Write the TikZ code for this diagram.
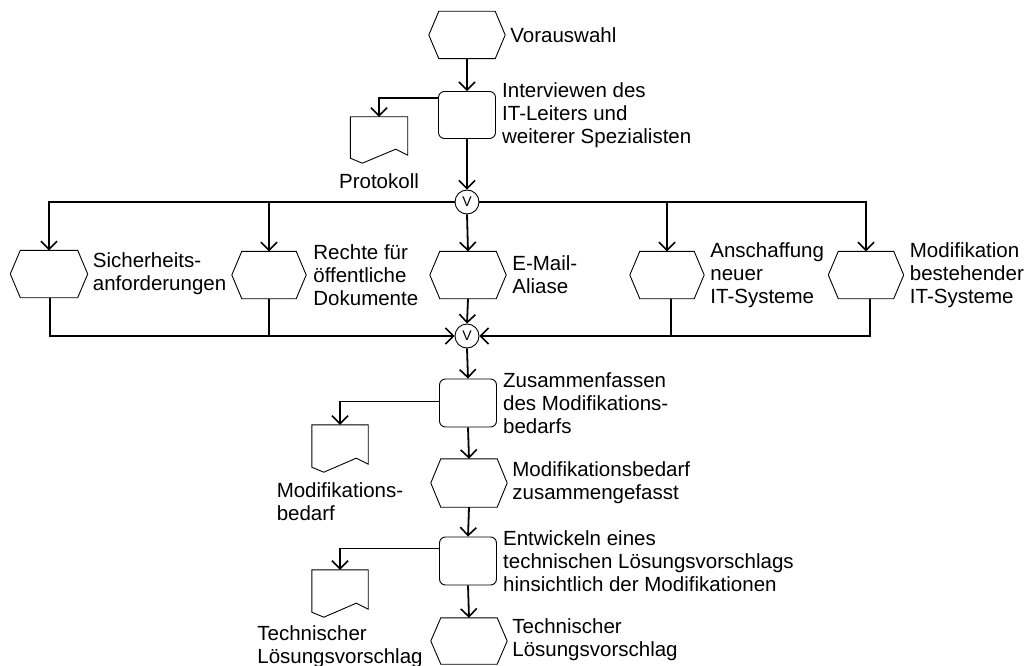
\documentclass[tikz,border=0pt]{standalone}
\usepackage{fontspec}
\setmainfont{Liberation Sans}[Ligatures=NoCommon]
\usetikzlibrary{arrows.meta,calc}

% outlines of event (hexagon) and document nodes
\newcommand\hexoutline[1]{%
  \draw[shapeline] (#1.west) -- ([xshift=10pt]#1.north west) -- ([xshift=-10pt]#1.north east)
    -- (#1.east) -- ([xshift=-10pt]#1.south east) -- ([xshift=10pt]#1.south west) -- cycle;}
\newcommand\docoutline[1]{%
  \draw[shapeline] (#1.north west) -- (#1.north east) -- ([yshift=8pt]#1.south east)
    -- ([xshift=-12pt,yshift=14pt]#1.south east) -- ([xshift=12pt]#1.south west)
    -- ([yshift=5pt]#1.south west) -- cycle;}

\begin{document}
\begin{tikzpicture}[x=1pt,y=-1pt,
  shapeline/.style={line width=0.9pt},
  hexnode/.style={minimum width=76pt, minimum height=47pt, inner sep=0pt},
  funcbox/.style={draw, shapeline, rounded corners=6pt, minimum width=57pt, minimum height=47pt, inner sep=0pt},
  docnode/.style={minimum width=56pt, minimum height=46pt, inner sep=0pt},
  ornode/.style={draw, circle, shapeline, minimum size=24pt, inner sep=0pt, font=\fontsize{14}{14}\selectfont},
  conn/.style={line width=1.8pt},
  arr/.style={conn, -{Straight Barb[length=8pt,width=16pt,line width=1.6pt]}},
  lbl/.style={inner sep=0pt, align=left, anchor=west, font=\fontsize{20.5}{23}\selectfont},
  doclbl/.style={inner sep=0pt, align=left, anchor=north, font=\fontsize{20.5}{23}\selectfont},
]
\useasboundingbox (0,0) rectangle (1033,666);

% ---- start event and first function
\node[hexnode] (vor) at (467,35) {};
\hexoutline{vor}
\node[lbl] (vorT) at ([xshift=5pt]vor.east) {Vorauswahl};

\node[funcbox] (f1) at (467,115) {};
\node[lbl] (f1T) at ([xshift=6pt]f1.east) {Interviewen des\\IT-Leiters und\\weiterer Spezialisten};

\node[docnode, minimum width=57pt] (doc1) at (379,140) {};
\docoutline{doc1}
\node[doclbl] (doc1T) at ([yshift=-10pt]doc1.south) {Protokoll};

% ---- split connector and the five events
\node[ornode] (or1) at (467,202) {V};

\node[hexnode, minimum width=77pt] (sich) at (49,274) {};
\node[hexnode, minimum width=74pt] (rechte) at (269,275) {};
\node[hexnode] (email) at (468,275) {};
\node[hexnode, minimum width=74pt] (ansch) at (667,275) {};
\node[hexnode, minimum width=75pt] (modif) at (866,275) {};
\foreach \n in {sich,rechte,email,ansch,modif} {\hexoutline{\n}}

\node[lbl] (sichT) at ([xshift=5pt]sich.east) {Sicherheits-\\anforderungen};
\node[lbl] (rechteT) at ([xshift=7pt]rechte.east) {Rechte für\\öffentliche\\Dokumente};
\node[lbl] (emailT) at ([xshift=6pt]email.east) {E-Mail-\\Aliase};
\node[lbl] (anschT) at ([xshift=6pt]ansch.east) {Anschaffung\\neuer\\IT-Systeme};
\node[lbl] (modifT) at ([xshift=6pt]modif.east) {Modifikation\\bestehender\\IT-Systeme};

% ---- join connector
\node[ornode] (or2) at (467,336) {V};

% ---- second function and its output
\node[funcbox, minimum height=48pt] (f2) at (468,403) {};
\node[lbl] (f2T) at ([xshift=6pt]f2.east) {Zusammenfassen\\des Modifikations-\\bedarfs};

\node[docnode, minimum height=47pt] (doc2) at (340,448.5) {};
\docoutline{doc2}
\node[doclbl] (doc2T) at ([yshift=-10pt]doc2.south) {Modifikations-\\bedarf};

\node[hexnode, minimum height=48pt] (ev2) at (469,483) {};
\hexoutline{ev2}
\node[lbl] (ev2T) at ([xshift=5pt]ev2.east) {Modifikationsbedarf\\zusammengefasst};

% ---- third function and its output
\node[funcbox, minimum height=48pt] (f3) at (468,561) {};
\node[lbl] (f3T) at ([xshift=6pt]f3.east) {Entwickeln eines\\technischen Lösungsvorschlags\\hinsichtlich der Modifikationen};

\node[docnode, minimum height=47pt] (doc3) at (340,593.5) {};
\docoutline{doc3}
\node[doclbl] (doc3T) at ([yshift=-8pt]doc3.south) {Technischer\\Lösungsvorschlag};

\node[hexnode, minimum height=46pt] (ev3) at (469,641) {};
\hexoutline{ev3}
\node[lbl] (ev3T) at ([xshift=5pt,yshift=1pt]ev3.east) {Technischer\\Lösungsvorschlag};

% ---- connectors
\draw[arr] (vor.south) -- (f1.north);
\draw[arr] ([yshift=-7pt]f1.north west) -| (doc1.north);
\draw[arr] (f1.south) -- (or1.north);

\draw[arr] (or1.west) -| (sich.north);
\draw[arr] (or1.west -| rechte.north) -- (rechte.north);
\draw[arr] (or1.south) -- (email.north);
\draw[arr] (or1.east) -| (modif.north);
\draw[arr] (or1.east -| ansch.north) -- (ansch.north);

\draw[arr] ([xshift=1pt]sich.south) |- (or2.west);
\draw[conn] (rechte.south) -- (rechte.south |- or2.west);
\draw[arr] (email.south) -- (or2.north);
\draw[arr] ([xshift=4pt]modif.south) |- (or2.east);
\draw[conn] ([xshift=4pt]ansch.south) -- ([xshift=4pt]ansch.south |- or2.east);

\draw[arr] (or2.south) -- (f2.north);
\draw[arr] ([yshift=-23pt]f2.north west) -| (doc2.north);
\draw[arr] (f2.south) -- (ev2.north);
\draw[arr] (ev2.south) -- (f3.north);
\draw[arr] ([yshift=-12pt]f3.north west) -| (doc3.north);
\draw[arr] (f3.south) -- (ev3.north);
\end{tikzpicture}
\end{document}
